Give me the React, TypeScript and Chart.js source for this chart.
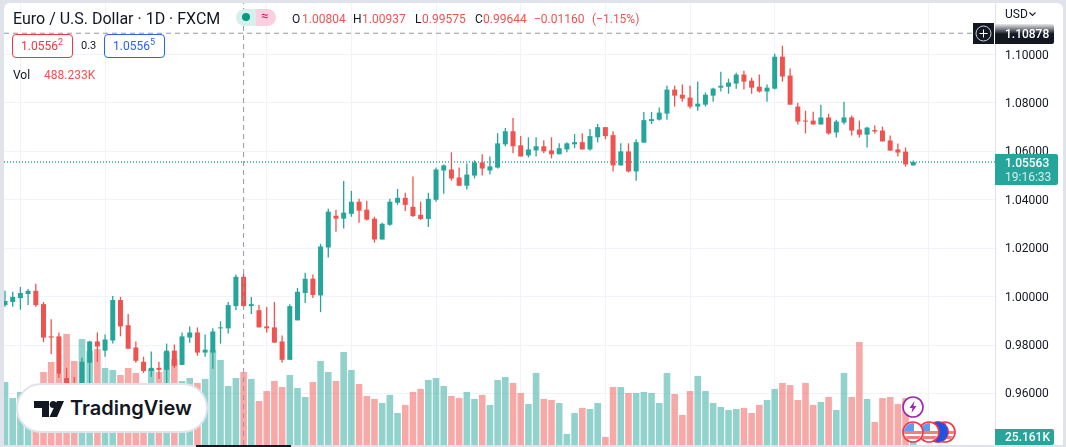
import { useEffect, useRef } from "react"
import { Chart, registerables } from "chart.js"

Chart.register(...registerables)

// daily candles
const opens = [
  0.9965, 0.9978, 0.9994, 1.0011, 1.0024, 0.9969, 0.9836, 0.9836, 0.9664, 0.964,
  0.961, 0.9727, 0.9815, 0.9777, 0.9819, 0.9986, 0.9882, 0.979, 0.9731, 0.9693,
  0.9706, 0.9698, 0.9777, 0.9718, 0.9831, 0.9852, 0.9769, 0.9769, 0.9869, 0.9869,
  0.9961, 1.0082, 0.9961, 0.9944, 0.9877, 0.9873, 0.9815, 0.9739, 0.9902, 1.0015,
  1.0074, 1.0005, 1.0203, 1.0334, 1.0322, 1.0342, 1.0392, 1.0359, 1.0322, 1.0236,
  1.0297, 1.0388, 1.0408, 1.0371, 1.0338, 1.0321, 1.04, 1.0521, 1.0525, 1.0492,
  1.0458, 1.05, 1.0554, 1.0521, 1.0533, 1.0629, 1.0683, 1.0625, 1.0583, 1.0604,
  1.0621, 1.0604, 1.0588, 1.0608, 1.0629, 1.0638, 1.0608, 1.0658, 1.07, 1.0667,
  1.0542, 1.06, 1.0517, 1.0636, 1.0725, 1.0731, 1.0756, 1.0855, 1.0834, 1.0822,
  1.0785, 1.0793, 1.083, 1.0863, 1.0867, 1.088, 1.0917, 1.0892, 1.0867, 1.0847,
  1.0859, 1.0991, 1.0913, 1.0785, 1.0727, 1.0727, 1.0711, 1.074, 1.0678, 1.0719,
  1.074, 1.069, 1.0669, 1.0688, 1.0686, 1.0645, 1.0608, 1.0599, 1.0542,
]
const highs = [
  1.0024, 1.002, 1.004, 1.0032, 1.0053, 0.9978, 0.9907, 0.9852, 0.9706, 0.9668,
  0.9748, 0.9818, 0.9852, 0.9844, 1.0003, 0.9999, 0.9928, 0.9815, 0.9752, 0.9773,
  0.9731, 0.9806, 0.9802, 0.9852, 0.9877, 0.9873, 0.9844, 0.9869, 0.9898, 0.9978,
  1.0091, 1.0095, 0.9999, 0.9965, 0.9957, 0.9978, 0.984, 0.9969, 1.0036, 1.0099,
  1.0091, 1.0218, 1.0363, 1.0359, 1.0478, 1.0437, 1.0404, 1.0396, 1.033, 1.0305,
  1.0404, 1.0445, 1.0429, 1.0496, 1.0392, 1.0429, 1.0533, 1.0546, 1.0596, 1.0533,
  1.055, 1.0563, 1.0588, 1.0579, 1.0675, 1.0696, 1.0738, 1.0663, 1.0658, 1.0658,
  1.0646, 1.0658, 1.0633, 1.0638, 1.0671, 1.0675, 1.0692, 1.0713, 1.07, 1.0683,
  1.0633, 1.0633, 1.065, 1.0763, 1.0763, 1.0781, 1.0871, 1.0871, 1.0876, 1.0871,
  1.0888, 1.0843, 1.0863, 1.0929, 1.09, 1.0925, 1.0933, 1.0904, 1.0917, 1.0876,
  1.1003, 1.1036, 1.0942, 1.0801, 1.0768, 1.0764, 1.0793, 1.0756, 1.0731, 1.0805,
  1.0748, 1.0727, 1.0702, 1.0707, 1.0702, 1.0665, 1.0632, 1.0616, 1.0562,
]
const lows = [
  0.9958, 0.9958, 0.9946, 0.9965, 0.9958, 0.9812, 0.9763, 0.9664, 0.9555, 0.956,
  0.958, 0.964, 0.9731, 0.9752, 0.9806, 0.9836, 0.9785, 0.9727, 0.9685, 0.9668,
  0.966, 0.964, 0.9706, 0.9718, 0.981, 0.9756, 0.9752, 0.9702, 0.9806, 0.9848,
  0.9944, 0.9958, 0.9928, 0.9873, 0.9852, 0.981, 0.9727, 0.9739, 0.9902, 0.9974,
  0.9994, 0.9936, 1.0162, 1.0268, 1.0281, 1.033, 1.0305, 1.0314, 1.0223, 1.0236,
  1.0293, 1.0379, 1.0354, 1.0329, 1.0317, 1.0288, 1.0392, 1.0425, 1.0479, 1.0458,
  1.0442, 1.0488, 1.05, 1.0504, 1.0529, 1.0621, 1.0592, 1.0579, 1.0575, 1.0579,
  1.0592, 1.0571, 1.0588, 1.0596, 1.0613, 1.0608, 1.0604, 1.0638, 1.065, 1.0517,
  1.0542, 1.0513, 1.0479, 1.0636, 1.0713, 1.0727, 1.0731, 1.0785, 1.0805, 1.0777,
  1.0768, 1.0785, 1.0805, 1.0847, 1.0838, 1.0859, 1.0855, 1.0838, 1.0843, 1.0805,
  1.0855, 1.0888, 1.0793, 1.0711, 1.0674, 1.0711, 1.0711, 1.0669, 1.0657, 1.0711,
  1.0665, 1.0657, 1.0616, 1.0674, 1.0641, 1.0603, 1.0579, 1.0537, 1.0542,
]
const closes = [
  0.9982, 0.9999, 1.0015, 1.0024, 0.9965, 0.9831, 0.9831, 0.9681, 0.958, 0.959,
  0.9731, 0.9815, 0.9794, 0.9823, 0.9986, 0.9877, 0.9785, 0.9735, 0.9693, 0.9706,
  0.9698, 0.9777, 0.9714, 0.9836, 0.9852, 0.9769, 0.9781, 0.9856, 0.9873, 0.9965,
  1.0082, 0.9961, 0.9969, 0.9873, 0.9869, 0.981, 0.9739, 0.9961, 1.002, 1.0074,
  1.0007, 1.0207, 1.0351, 1.0322, 1.0347, 1.0392, 1.0355, 1.0318, 1.0236, 1.0301,
  1.0392, 1.0408, 1.0379, 1.0333, 1.0321, 1.0404, 1.0525, 1.0542, 1.0488, 1.0458,
  1.0504, 1.0554, 1.0529, 1.0538, 1.0633, 1.0683, 1.0621, 1.0579, 1.0608, 1.0621,
  1.06, 1.0588, 1.0613, 1.0633, 1.0638, 1.0608, 1.0663, 1.07, 1.0663, 1.0542,
  1.06, 1.0517, 1.0638, 1.0729, 1.0733, 1.076, 1.0855, 1.083, 1.0818, 1.0785,
  1.0797, 1.0834, 1.0859, 1.0871, 1.0884, 1.0917, 1.0888, 1.0863, 1.0847, 1.0863,
  1.0991, 1.0909, 1.0793, 1.0723, 1.0723, 1.0711, 1.074, 1.0674, 1.0723, 1.074,
  1.0686, 1.0669, 1.0698, 1.0682, 1.0641, 1.0603, 1.0595, 1.0546, 1.0556,
]
// volume in thousands
const volumes = [
  421, 314, 355, 300, 350, 488, 555, 475, 743, 562,
  709, 629, 642, 515, 502, 468, 515, 482, 390, 508,
  488, 622, 575, 428, 448, 415, 442, 636, 569, 395,
  448, 488, 442, 294, 361, 428, 388, 468, 381, 321,
  421, 562, 488, 428, 622, 502, 408, 328, 308, 281,
  335, 214, 268, 355, 375, 435, 448, 395, 328, 314,
  355, 308, 335, 268, 435, 455, 415, 348, 274, 482,
  308, 301, 281, 74, 214, 248, 241, 281, 54, 388,
  388, 348, 348, 355, 348, 281, 482, 341, 201, 361,
  462, 361, 281, 254, 234, 241, 248, 214, 268, 301,
  375, 415, 401, 301, 415, 268, 288, 321, 234, 482,
  321, 689, 308, 154, 314, 321, 274, 314, 25.161,
]
// indices of the candles that carry a vertical grid line
const timeGridIndices = [2, 13, 34, 45, 56, 67, 78, 89, 100, 120]
const priceTicks = [0.96, 0.98, 1.0, 1.02, 1.04, 1.06, 1.08, 1.1]

const lastPrice = 1.05563
const crosshairPrice = 1.10878
const crosshairIndex = 31

const xMin = -0.13
const xMax = 128.62
const priceMin = 0.93873
const priceMax = 1.12127
const volumeMax = 2956

const UP = "#26a69a"
const DOWN = "#ef5350"
const UP_VOL = "rgba(38,166,154,0.5)"
const DOWN_VOL = "rgba(239,83,80,0.5)"
const FONT = "Roboto, 'Noto Sans', sans-serif"

function Txt({ x, y, color = "#131722", size = 12, weight = 400, children }: any) {
  return (
    <span
      style={{
        position: "absolute",
        left: x,
        top: y,
        color,
        fontSize: size,
        fontWeight: weight,
        fontFamily: FONT,
        lineHeight: "16px",
        whiteSpace: "nowrap",
      }}
    >
      {children}
    </span>
  )
}

function Box({ x, y, w, h, style, children }: any) {
  return (
    <div style={{ position: "absolute", left: x, top: y, width: w, height: h, boxSizing: "border-box", ...style }}>
      {children}
    </div>
  )
}

function Flag({ x, y }: { x: number; y: number }) {
  return (
    <svg style={{ position: "absolute", left: x - 11, top: y - 11 }} width="22" height="22" viewBox="0 0 22 22">
      <defs>
        <clipPath id="flagClip">
          <circle cx="11" cy="11" r="9" />
        </clipPath>
      </defs>
      <circle cx="11" cy="11" r="10" fill="#fff" stroke="#f23645" strokeWidth="1.6" />
      <g clipPath="url(#flagClip)">
        <rect x="2" y="10" width="18" height="3" fill="#f77c80" />
        <rect x="2" y="15" width="18" height="3" fill="#f77c80" />
        <rect x="2" y="2" width="10" height="8" fill="#5b9cf6" />
      </g>
    </svg>
  )
}

export default function App() {
  const chartRef = useRef<HTMLCanvasElement>(null)
  const chartInstance = useRef<Chart | null>(null)

  useEffect(() => {
    if (!chartRef.current) return
    const ctx = chartRef.current.getContext("2d")
    if (!ctx) return

    document.body.style.margin = "0"
    document.body.style.background = "#e0e3eb"

    const isUp = closes.map((c, i) => c >= opens[i])
    const candleColors = isUp.map((up) => (up ? UP : DOWN))
    const volumeColors = isUp.map((up) => (up ? UP_VOL : DOWN_VOL))

    chartInstance.current = new Chart(ctx, {
      type: "bar",
      data: {
        datasets: [
          {
            label: "crosshair v",
            type: "line",
            data: [
              { x: crosshairIndex, y: priceMin },
              { x: crosshairIndex, y: priceMax },
            ],
            borderColor: "#9598a1",
            borderWidth: 1,
            borderDash: [5, 4],
            pointRadius: 0,
            yAxisID: "y",
            order: 0,
          },
          {
            label: "crosshair h",
            type: "line",
            data: [
              { x: xMin, y: crosshairPrice },
              { x: 125.8, y: crosshairPrice },
            ],
            borderColor: "#9598a1",
            borderWidth: 1,
            borderDash: [5, 4],
            pointRadius: 0,
            yAxisID: "y",
            order: 0,
          },
          {
            label: "last price",
            type: "line",
            data: [
              { x: xMin, y: lastPrice },
              { x: xMax, y: lastPrice },
            ],
            borderColor: UP,
            borderWidth: 1.6,
            borderDash: [1, 2],
            pointRadius: 0,
            yAxisID: "y",
            order: 3,
          },
          {
            label: "body",
            data: opens.map((o, i) => ({ x: i, y: [o, closes[i]] })) as any,
            backgroundColor: candleColors,
            barThickness: 5,
            minBarLength: 1,
            grouped: false,
            inflateAmount: 0,
            yAxisID: "y",
            order: 1,
          },
          {
            label: "wick",
            data: lows.map((l, i) => ({ x: i, y: [l, highs[i]] })) as any,
            backgroundColor: candleColors,
            barThickness: 1.3,
            grouped: false,
            inflateAmount: 0,
            yAxisID: "y",
            order: 2,
          },
          {
            label: "volume",
            data: volumes.map((v, i) => ({ x: i, y: v })) as any,
            backgroundColor: volumeColors,
            barThickness: 6.6,
            grouped: false,
            inflateAmount: 0,
            yAxisID: "vol",
            order: 4,
          },
        ] as any,
      },
      options: {
        responsive: false,
        animation: false,
        events: [],
        layout: { padding: { left: 4, top: 3, right: 3, bottom: 2 } },
        plugins: { legend: { display: false }, tooltip: { enabled: false } },
        scales: {
          x: {
            type: "linear",
            min: xMin,
            max: xMax,
            offset: false,
            border: { display: false },
            grid: { color: "#f0f3fa", drawTicks: false, offset: false },
            ticks: { display: false, padding: 0 },
            afterBuildTicks: (scale: any) => {
              scale.ticks = timeGridIndices.map((value) => ({ value }))
            },
            afterFit: (scale: any) => {
              scale.height = 0
              scale.paddingLeft = 0
              scale.paddingRight = 0
            },
          },
          y: {
            position: "right",
            min: priceMin,
            max: priceMax,
            border: { color: "#e0e3eb" },
            grid: { color: "#f0f3fa", drawTicks: false },
            ticks: {
              color: "#131722",
              padding: 10,
              labelOffset: 1,
              font: { family: FONT, size: 12 },
              callback: (value: any) => Number(value).toFixed(5),
            },
            afterBuildTicks: (scale: any) => {
              scale.ticks = priceTicks.map((value) => ({ value }))
            },
            afterFit: (scale: any) => {
              scale.width = 68
              scale.paddingTop = 0
              scale.paddingBottom = 0
            },
          },
          vol: {
            display: false,
            min: 0,
            max: volumeMax,
          },
        },
      } as any,
    })

    return () => {
      if (chartInstance.current) {
        chartInstance.current.destroy()
      }
    }
  }, [])

  return (
    <div style={{ position: "relative", width: 1066, height: 447, overflow: "hidden" }}>
      <Box x={4} y={3} w={1059} h={442} style={{ background: "#fff", borderRadius: "6px 6px 0 0" }} />
      <canvas ref={chartRef} width={1066} height={447} style={{ position: "absolute", left: 0, top: 0, display: "block" }} />

      {/* legend */}
      <Txt x={13} y={11} size={16}>Euro / U.S. Dollar · 1D · FXCM</Txt>
      <Box x={236} y={9} w={20} h={17} style={{ background: "#d5efec", borderRadius: "9px 0 0 9px" }}>
        <div style={{ position: "absolute", left: 6, top: 4, width: 8, height: 8, borderRadius: 4, background: "#089981" }} />
      </Box>
      <Box x={256} y={9} w={20} h={17} style={{ background: "#fbcfe0", borderRadius: "0 9px 9px 0" }}>
        <span style={{ position: "absolute", left: 5, top: -1, fontSize: 13, color: "#c2185b", fontFamily: FONT }}>≈</span>
      </Box>
      <Txt x={292} y={11}>O</Txt>
      <Txt x={302} y={11} color={DOWN}>1.00804</Txt>
      <Txt x={353} y={11}>H</Txt>
      <Txt x={362} y={11} color={DOWN}>1.00937</Txt>
      <Txt x={415} y={11}>L</Txt>
      <Txt x={422} y={11} color={DOWN}>0.99575</Txt>
      <Txt x={475} y={11}>C</Txt>
      <Txt x={483} y={11} color={DOWN}>0.99644</Txt>
      <Txt x={534} y={11} color={DOWN}>−0.01160</Txt>
      <Txt x={592} y={11} color={DOWN}>(−1.15%)</Txt>

      <Box x={12} y={34} w={61} h={24} style={{ border: "1px solid #f23645", borderRadius: 4, background: "#fff" }} />
      <Txt x={21} y={38} color="#f23645">1.0556<sup style={{ fontSize: 9, lineHeight: 0 }}>2</sup></Txt>
      <Txt x={81} y={38} size={11}>0.3</Txt>
      <Box x={104} y={34} w={61} h={24} style={{ border: "1px solid #2962ff", borderRadius: 4, background: "#fff" }} />
      <Txt x={113} y={38} color="#2962ff">1.0556<sup style={{ fontSize: 9, lineHeight: 0 }}>5</sup></Txt>
      <Txt x={13} y={67}>Vol</Txt>
      <Txt x={44} y={67} color={DOWN}>488.233K</Txt>

      {/* price scale labels */}
      <Txt x={1005} y={6}>USD</Txt>
      <svg style={{ position: "absolute", left: 1029, top: 12 }} width="7" height="5" viewBox="0 0 7 5">
        <path d="M0.5 0.5 L3.5 3.5 L6.5 0.5" fill="none" stroke="#131722" strokeWidth="1.1" />
      </svg>
      <Box x={973} y={23} w={21} h={21} style={{ background: "#131722" }}>
        <svg width="21" height="21" viewBox="0 0 21 21">
          <circle cx="10.5" cy="10.5" r="7.5" fill="none" stroke="#d1d4dc" strokeWidth="1" />
          <path d="M10.5 6.5 V14.5 M6.5 10.5 H14.5" stroke="#fff" strokeWidth="1" />
        </svg>
      </Box>
      <Box x={995} y={24} w={59} h={20} style={{ background: "linear-gradient(to bottom, #e8e9ec 0px, #131722 10px)", borderRadius: "0 2px 2px 0" }} />
      <Txt x={1005} y={26} color="#fff" weight={500}>1.10878</Txt>
      <Box x={995} y={154} w={63} h={31} style={{ background: UP, borderRadius: "0 2px 2px 0" }} />
      <Txt x={1005} y={155} color="#fff" weight={500}>1.05563</Txt>
      <Txt x={1005} y={169} color="#d4edeb">19:16:33</Txt>
      <Box x={995} y={429} w={59} h={16} style={{ background: UP, borderRadius: "0 2px 2px 0" }} />
      <Txt x={1005} y={429} color="#fff" weight={500}>25.161K</Txt>

      {/* event markers */}
      <Flag x={945} y={432} />
      <Box x={927} y={421} w={22} h={22} style={{ borderRadius: 11, background: "#1e53e5", border: "1.6px solid #f23645" }} />
      <Flag x={929} y={432} />
      <Flag x={913} y={432} />
      <svg style={{ position: "absolute", left: 902, top: 396 }} width="22" height="22" viewBox="0 0 22 22">
        <circle cx="11" cy="11" r="10" fill="#fff" stroke="#9c27b0" strokeWidth="1.6" />
        <path d="M12.5 5 L7.5 12 H10.5 L9.5 17 L14.5 10 H11.5 Z" fill="#9c27b0" />
      </svg>

      {/* logo */}
      <Box x={16} y={383} w={192} h={50} style={{ background: "#fff", border: "2px solid #e0e3eb", borderRadius: 25 }}>
        <svg style={{ position: "absolute", left: 16, top: 16 }} width="30" height="16" viewBox="0 0 30 16">
          <path d="M0 0H15V16H8V7H0Z M23 0H30L23 16H15.5Z" fill="#131722" />
          <circle cx="19.2" cy="3.5" r="3.5" fill="#131722" />
        </svg>
        <span style={{ position: "absolute", left: 52, top: 9, fontFamily: "Inter, sans-serif", fontWeight: 600, fontSize: 20, lineHeight: "28px", color: "#131722" }}>
          TradingView
        </span>
      </Box>

      {/* marker on the time scale */}
      <Box x={196} y={445} w={95} h={2} style={{ background: "#131722" }} />
    </div>
  )
}
